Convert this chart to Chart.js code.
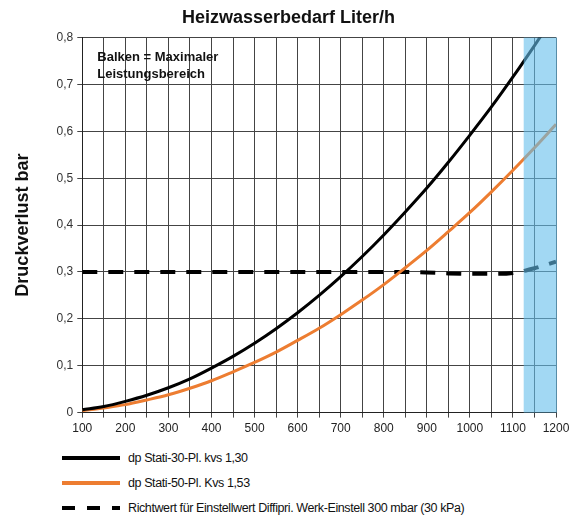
<!DOCTYPE html>
<html>
<head>
<meta charset="utf-8">
<script src="https://cdn.jsdelivr.net/npm/chart.js@4.4.1/dist/chart.umd.min.js"></script>
<style>
  body { margin: 0; background: #fff; font-family: "Liberation Sans", Arial, sans-serif; }
  #wrap { position: relative; width: 569px; height: 440px; }
  #legend { width: 569px; height: 79px; position: relative; }
  .item { position: absolute; left: 62px; height: 16px; display: flex; align-items: center; }
  .item span { margin-left: 8px; font-size: 12.5px; letter-spacing: -0.4px; color: #111; white-space: nowrap; }
</style>
</head>
<body>
<div id="wrap"><canvas id="chart"></canvas></div>
<div id="legend"></div>
<script>
// Heizwasserbedarf (l/h)
const flow = [100, 150, 200, 250, 300, 350, 400, 450, 500, 550, 600, 650, 700, 750, 800, 850, 900, 950, 1000, 1050, 1100, 1150, 1200];
// Druckverlust (bar)
const stati30 = [0.006, 0.013, 0.024, 0.037, 0.053, 0.072, 0.095, 0.12, 0.148, 0.179, 0.213, 0.25, 0.29, 0.333, 0.379, 0.428, 0.479, 0.534, 0.592, 0.652, 0.716, 0.783, 0.852];
const stati50 = [0.004, 0.01, 0.017, 0.027, 0.038, 0.052, 0.068, 0.087, 0.107, 0.129, 0.154, 0.18, 0.209, 0.24, 0.273, 0.309, 0.346, 0.386, 0.427, 0.471, 0.517, 0.565, 0.615];
const richtwert = [0.3, 0.3, 0.3, 0.3, 0.3, 0.3, 0.3, 0.3, 0.3, 0.3, 0.3, 0.3, 0.3, 0.3, 0.3, 0.3, 0.299, 0.297, 0.296, 0.296, 0.298, 0.308, 0.322];
const labels = ['dp Stati-30-Pl. kvs 1,30', 'dp Stati-50-Pl. Kvs 1,53', 'Richtwert für Einstellwert Diffipri. Werk-Einstell 300 mbar (30 kPa)'];
const barRange = [1125, 1200]; // Balken = maximaler Leistungsbereich

const pts = arr => arr.map((v, i) => ({ x: flow[i], y: v }));

const overlay = {
  id: 'overlay',
  afterDatasetsDraw(chart) {
    const { ctx, chartArea, scales } = chart;
    const x0 = scales.x.getPixelForValue(barRange[0]);
    const x1 = scales.x.getPixelForValue(barRange[1]);
    ctx.save();
    ctx.fillStyle = 'rgba(100,190,235,0.6)';
    ctx.fillRect(x0, chartArea.top, x1 - x0 + 1, chartArea.bottom - chartArea.top);
    ctx.fillStyle = '#111';
    ctx.font = 'bold 13px "Liberation Sans", Arial';
    ctx.textBaseline = 'middle';
    ctx.fillText('Balken = Maximaler', chartArea.left + 15, chartArea.top + 20);
    ctx.fillText('Leistungsbereich', chartArea.left + 15, chartArea.top + 37);
    ctx.restore();
  }
};

new Chart(document.getElementById('chart'), {
  type: 'line',
  data: {
    datasets: [
      { label: labels[0], data: pts(stati30), borderColor: '#000', borderWidth: 3, pointRadius: 0, cubicInterpolationMode: 'monotone' },
      { label: labels[1], data: pts(stati50), borderColor: '#ed7d31', borderWidth: 3, pointRadius: 0, cubicInterpolationMode: 'monotone' },
      { label: labels[2], data: pts(richtwert), borderColor: '#000', borderWidth: 4, borderDash: [15, 11], pointRadius: 0, cubicInterpolationMode: 'monotone' }
    ]
  },
  options: {
    responsive: true,
    maintainAspectRatio: false,
    animation: false,
    layout: { padding: { left: 8, right: 0, top: 0, bottom: 0 } },
    plugins: {
      legend: { display: false },
      tooltip: { enabled: false },
      title: {
        display: true,
        text: 'Heizwasserbedarf Liter/h',
        color: '#111',
        font: { family: '"Liberation Sans", Arial', size: 18, weight: 'bold' },
        padding: { top: 7, bottom: 9 }
      }
    },
    scales: {
      x: {
        type: 'linear',
        min: 100,
        max: 1200,
        afterFit: s => { s.paddingRight = 13; },
        ticks: {
          stepSize: 50,
          autoSkip: false,
          maxRotation: 0,
          padding: 4,
          color: '#222',
          font: { family: '"Liberation Sans", Arial', size: 12 },
          callback: v => (v % 100 === 0 ? String(v) : '')
        },
        grid: { color: '#444', lineWidth: 1, tickLength: 5 },
        border: { color: '#222', width: 1 }
      },
      y: {
        min: 0,
        max: 0.8,
        ticks: {
          stepSize: 0.1,
          padding: 4,
          color: '#333',
          font: { family: '"Liberation Sans", Arial', size: 12 },
          callback: v => (v === 0 ? '0' : v.toFixed(1).replace('.', ','))
        },
        grid: { color: '#444', lineWidth: 1, tickLength: 5 },
        border: { color: '#222', width: 1 },
        title: {
          display: true,
          text: 'Druckverlust bar',
          color: '#111',
          font: { family: '"Liberation Sans", Arial', size: 18, weight: 'bold' },
          padding: { top: 4, bottom: 19 }
        }
      }
    }
  },
  plugins: [overlay]
});

// legend
const legend = document.getElementById('legend');
const styles = [
  { color: '#000', width: 4, dash: '' },
  { color: '#ed7d31', width: 4, dash: '' },
  { color: '#000', width: 4, dash: '13 12' }
];
labels.forEach((t, i) => {
  const d = document.createElement('div');
  d.className = 'item';
  d.style.top = (10 + i * 25) + 'px';
  const s = styles[i];
  d.innerHTML = `<svg width="58" height="8"><line x1="0" y1="4" x2="58" y2="4" stroke="${s.color}" stroke-width="${s.width}" stroke-dasharray="${s.dash}"/></svg><span>${t}</span>`;
  legend.appendChild(d);
});
</script>
</body>
</html>
